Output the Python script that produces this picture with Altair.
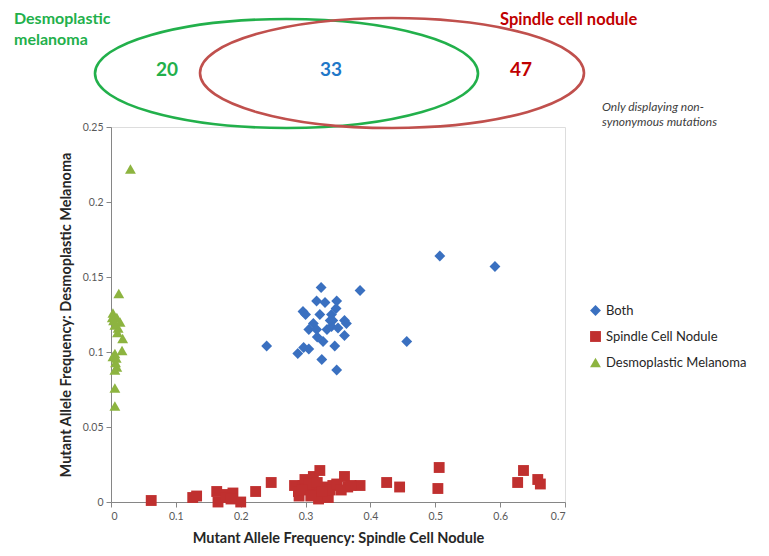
import altair as alt
import pandas as pd

# ---- data ----
series_names = ["Both", "Spindle Cell Nodule", "Desmoplastic Melanoma"]
series_colors = ["#3a70c0", "#c0302f", "#8db440"]
series_shapes = ["diamond", "square", "triangle-up"]

both_x = [0.507, 0.592, 0.384, 0.324, 0.317, 0.330, 0.348, 0.347, 0.296, 0.322,
          0.340, 0.342, 0.360, 0.312, 0.305, 0.317, 0.333, 0.340, 0.350, 0.363,
          0.360, 0.327, 0.345, 0.297, 0.305, 0.288, 0.325, 0.348, 0.456, 0.240,
          0.318, 0.338, 0.300]
both_y = [0.164, 0.157, 0.141, 0.143, 0.134, 0.133, 0.134, 0.129, 0.127, 0.125,
          0.125, 0.121, 0.121, 0.119, 0.115, 0.115, 0.115, 0.117, 0.116, 0.119,
          0.111, 0.107, 0.104, 0.103, 0.102, 0.099, 0.095, 0.088, 0.107, 0.104,
          0.110, 0.121, 0.125]

scn_x = [0.062, 0.126, 0.132, 0.163, 0.165, 0.178, 0.188, 0.200, 0.223, 0.247,
         0.283, 0.289, 0.296, 0.299, 0.312, 0.322, 0.312, 0.312, 0.330, 0.330,
         0.342, 0.360, 0.365, 0.384, 0.425, 0.445, 0.506, 0.504, 0.627, 0.636,
         0.658, 0.662, 0.177, 0.185, 0.290, 0.300, 0.305, 0.318, 0.320, 0.335,
         0.338, 0.348, 0.355, 0.295, 0.325, 0.308, 0.370]
scn_y = [0.001, 0.003, 0.004, 0.007, 0.000, 0.005, 0.006, 0.000, 0.007, 0.013,
         0.011, 0.007, 0.011, 0.015, 0.017, 0.021, 0.009, 0.005, 0.010, 0.005,
         0.011, 0.017, 0.010, 0.011, 0.013, 0.010, 0.023, 0.009, 0.013, 0.021,
         0.015, 0.012, 0.003, 0.002, 0.004, 0.009, 0.012, 0.013, 0.002, 0.003,
         0.008, 0.012, 0.008, 0.008, 0.007, 0.004, 0.011]

dm_x = [0.030, 0.012, 0.003, 0.009, 0.002, 0.014, 0.006, 0.011, 0.018, 0.017,
        0.006, 0.003, 0.008, 0.009, 0.006, 0.006, 0.006, 0.004, 0.010, 0.007]
dm_y = [0.222, 0.139, 0.126, 0.123, 0.123, 0.120, 0.118, 0.116, 0.109, 0.101,
        0.099, 0.097, 0.096, 0.090, 0.088, 0.076, 0.064, 0.121, 0.113, 0.093]

venn_counts = ["20", "33", "47"]
venn_count_colors = ["#22b04b", "#1f78c8", "#c00000"]
x_ticks = [0, 0.1, 0.2, 0.3, 0.4, 0.5, 0.6, 0.7]
y_ticks = [0, 0.05, 0.1, 0.15, 0.2, 0.25]

rows = []
for name, xs, ys in zip(series_names, [both_x, scn_x, dm_x], [both_y, scn_y, dm_y]):
    for a, b in zip(xs, ys):
        rows.append({"series": name, "scn": a, "dm": b})
df = pd.DataFrame(rows)

FONT = "Lato"

legend = alt.Legend(title=None, orient="none", legendX=478, legendY=177,
                    labelFontSize=13, labelColor="#262626", labelFont=FONT,
                    symbolSize=95, rowPadding=12, symbolStrokeWidth=0,
                    labelOffset=4)

axis_common = dict(grid=False, titleFontSize=14.5, titleFontWeight="bold",
                   titleColor="#262626", titleFont=FONT, labelFont=FONT,
                   labelFontSize=10.5, labelColor="#595959", tickSize=5,
                   tickColor="#868686", domainColor="#868686")

scatter = alt.Chart(df).mark_point(filled=True, opacity=1).encode(
    x=alt.X("scn:Q", scale=alt.Scale(domain=[0, 0.7], nice=False),
            axis=alt.Axis(values=x_ticks, format=".1~f",
                          title="Mutant Allele Frequency: Spindle Cell Nodule",
                          labelPadding=4, titlePadding=10, **axis_common)),
    y=alt.Y("dm:Q", scale=alt.Scale(domain=[0, 0.25], nice=False),
            axis=alt.Axis(values=y_ticks, format=".2~f",
                          title="Mutant Allele Frequency: Desmoplastic Melanoma",
                          labelPadding=3, titlePadding=9, **axis_common)),
    color=alt.Color("series:N", scale=alt.Scale(domain=series_names, range=series_colors),
                    legend=legend),
    shape=alt.Shape("series:N", scale=alt.Scale(domain=series_names, range=series_shapes),
                    legend=legend),
    size=alt.Size("series:N", scale=alt.Scale(domain=series_names, range=[118, 118, 140]),
                  legend=None),
)


def ellipse_path(rx, ry):
    e = ry / rx
    k = 0.5523
    a = e * k
    return (f"M-1,0C-1,{-a:.4f},{-k},{-e:.4f},0,{-e:.4f}"
            f"C{k},{-e:.4f},1,{-a:.4f},1,0"
            f"C1,{a:.4f},{k},{e:.4f},0,{e:.4f}"
            f"C{-k},{e:.4f},-1,{a:.4f},-1,0Z")


one = pd.DataFrame({"k": [0]})

green_ell = alt.Chart(one).mark_point(
    shape=ellipse_path(191.5, 54.5), filled=False, stroke="#22b04b",
    strokeWidth=2.6, opacity=1, size=(2 * 191.5) ** 2
).encode(x=alt.value(175.5), y=alt.value(-53.5))

red_ell = alt.Chart(one).mark_point(
    shape=ellipse_path(192, 55), filled=False, stroke="#c0504d",
    strokeWidth=2.6, opacity=1, size=(2 * 192) ** 2
).encode(x=alt.value(281), y=alt.value(-54))

count_layers = []
for txt, col, px in zip(venn_counts, venn_count_colors, [56, 220, 410]):
    count_layers.append(
        alt.Chart(one).mark_text(text=txt, color=col, font=FONT, fontSize=19,
                                 fontWeight="bold", align="center", baseline="middle")
        .encode(x=alt.value(px), y=alt.value(-57))
    )

dm_title1 = alt.Chart(one).mark_text(text="Desmoplastic", color="#22b04b", font=FONT,
                                     fontSize=16, fontWeight="bold", align="left",
                                     baseline="middle").encode(x=alt.value(-97), y=alt.value(-108))
dm_title2 = alt.Chart(one).mark_text(text="melanoma", color="#22b04b", font=FONT,
                                     fontSize=16, fontWeight="bold", align="left",
                                     baseline="middle").encode(x=alt.value(-97), y=alt.value(-87))
scn_title = alt.Chart(one).mark_text(text="Spindle cell nodule", color="#c00000", font=FONT,
                                     fontSize=16.5, fontWeight="bold", align="left",
                                     baseline="middle").encode(x=alt.value(389), y=alt.value(-107))
note1 = alt.Chart(one).mark_text(text="Only displaying non-", color="#404040", font=FONT,
                                 fontSize=12, fontStyle="italic", align="left",
                                 baseline="middle").encode(x=alt.value(491), y=alt.value(-20))
note2 = alt.Chart(one).mark_text(text="synonymous mutations", color="#404040", font=FONT,
                                 fontSize=12, fontStyle="italic", align="left",
                                 baseline="middle").encode(x=alt.value(491), y=alt.value(-5))

chart = alt.layer(
    scatter, green_ell, red_ell, *count_layers, dm_title1, dm_title2, scn_title, note1, note2
).properties(
    width=454, height=375,
    padding={"left": 103, "top": 119, "right": 190, "bottom": 50},
    autosize=alt.AutoSizeParams(type="none"),
).configure_view(stroke="#b8b8b8", strokeWidth=1).configure(font=FONT, background="white")

chart.save("out.html", embed_options={"renderer": "svg", "actions": False})
